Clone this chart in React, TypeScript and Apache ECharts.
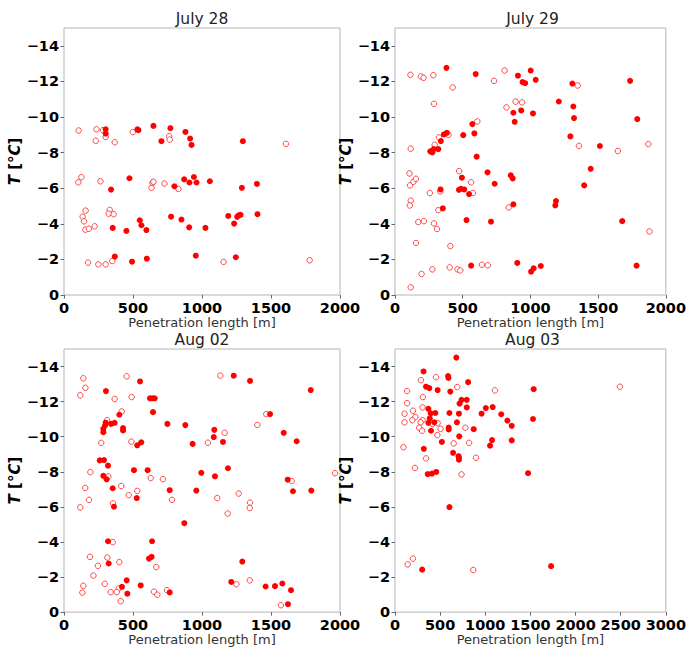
import React, { useEffect, useRef } from 'react';
import * as echarts from 'echarts';

const panelTitles = ['July 28', 'July 29', 'Aug 02', 'Aug 03'];
const xMaxes = [2000, 2000, 2000, 3000];
const yTickValues = [0, -2, -4, -6, -8, -10, -12, -14];

const jul28Filled = [
  [302, -9.31], [302, -9.07], [532, -9.31], [539, -9.26], [648, -9.5], [706, -8.64], [771, -9.37], [880, -9.16], [914, -8.79], [924, -8.43], [1296, -8.64],
  [341, -5.92], [474, -6.56], [800, -6.11], [871, -6.5], [909, -6.32], [941, -6.63], [960, -6.32], [1057, -6.39], [1289, -6.02], [1398, -6.24],
  [353, -3.77], [452, -3.6], [549, -4.2], [561, -3.92], [597, -3.65], [776, -4.4], [851, -4.24], [907, -3.8], [1025, -3.77], [1190, -4.44], [1233, -4.01], [1255, -4.39], [1265, -4.48], [1279, -4.5], [1402, -4.54],
  [368, -2.16], [493, -1.87], [600, -2.04], [955, -2.21], [1245, -2.12],
];
const jul28Hollow = [
  [106, -9.24], [235, -9.31], [283, -9.26], [302, -8.88], [498, -9.15], [762, -8.92], [766, -8.73], [230, -8.66], [368, -8.58], [1608, -8.49],
  [104, -6.33], [126, -6.62], [264, -6.39], [634, -6.02], [641, -6.3], [648, -6.36], [728, -6.26], [829, -5.96],
  [157, -4.74], [135, -4.4], [145, -4.14], [155, -3.67], [180, -3.72], [222, -3.86], [331, -4.78], [324, -4.57], [360, -4.54],
  [174, -1.82], [249, -1.72], [302, -1.72], [350, -1.91], [1156, -1.86], [1780, -1.95],
];
const jul29Filled = [
  [380, -12.76], [596, -12.41], [908, -12.32], [1002, -12.61], [942, -11.96], [961, -11.9], [1039, -12.09], [1310, -11.88], [1736, -12.03],
  [932, -10.37], [874, -10.24], [884, -9.73], [1019, -10.2], [1210, -10.87], [1317, -10.59], [1322, -9.94], [1789, -9.88],
  [571, -9.6], [586, -9.08], [504, -8.98], [361, -9.02], [383, -9.11], [339, -8.65], [261, -8.07], [276, -8.01], [286, -8.2], [320, -8.2], [603, -7.77], [1295, -8.91], [1513, -8.37],
  [1445, -7.09], [683, -6.89], [494, -6.59], [855, -6.72], [869, -6.55], [336, -5.93], [472, -5.91], [487, -5.97], [511, -5.93], [547, -5.67], [736, -6.25], [1397, -6.16],
  [874, -5.09], [1189, -5.28], [1184, -5.03], [353, -4.87], [528, -4.21], [709, -4.12], [1678, -4.15],
  [562, -1.65], [903, -1.8], [1005, -1.31], [1024, -1.5], [1077, -1.63], [1784, -1.65],
];
const jul29Hollow = [
  [114, -12.37], [191, -12.28], [211, -12.2], [283, -12.35], [426, -11.66], [731, -12.03], [809, -12.61], [1349, -11.77],
  [288, -10.74], [823, -10.54], [891, -10.86], [939, -10.82], [608, -9.75], [395, -9.0], [324, -8.85], [293, -8.44], [116, -8.22], [1358, -8.38], [1646, -8.09], [1871, -8.48],
  [474, -6.96], [107, -6.83], [111, -6.16], [136, -6.36], [155, -6.53], [257, -5.73], [334, -5.82], [562, -6.33], [576, -5.73],
  [116, -5.3], [109, -5.03], [320, -4.77], [840, -4.92], [172, -4.1], [213, -4.15], [288, -4.02], [310, -3.71], [1879, -3.57],
  [155, -2.92], [409, -2.75], [642, -1.7], [685, -1.67], [404, -1.55], [462, -1.44], [482, -1.38], [276, -1.44], [196, -1.18], [116, -0.43],
];
const aug02Filled = [
  [304, -12.6], [551, -13.15], [623, -12.19], [640, -12.19], [657, -12.19], [645, -11.4], [401, -11.25], [302, -10.8], [297, -10.64], [285, -10.45], [285, -10.26], [341, -10.73], [367, -10.79], [428, -10.49], [428, -10.36], [749, -10.73], [879, -10.66], [932, -9.59], [560, -9.68], [531, -9.51],
  [259, -8.65], [290, -8.67], [319, -8.35], [285, -7.77], [507, -8.09], [606, -8.09], [995, -7.94],
  [1230, -13.48], [1348, -13.18], [1788, -12.66], [1493, -11.29], [1089, -10.39], [1085, -9.98], [1152, -9.7], [1592, -10.22], [1686, -9.74], [1094, -7.74], [1188, -8.2], [1621, -7.55],
  [309, -7.57], [353, -7.06], [766, -6.95], [959, -6.93], [527, -6.5], [362, -6.01], [872, -5.07], [1659, -6.89], [1792, -6.93],
  [319, -4.04], [638, -4.04], [635, -3.15], [616, -3.05], [324, -2.77], [454, -1.81], [556, -1.52], [420, -1.44], [459, -1.05], [766, -1.12],
  [1292, -2.88], [1212, -1.72], [1461, -1.46], [1529, -1.48], [1582, -1.63], [1645, -1.25], [1623, -0.45],
];
const aug02Hollow = [
  [140, -13.33], [155, -12.79], [118, -12.36], [454, -13.44], [367, -12.15], [490, -12.26], [418, -11.44], [312, -10.94], [270, -9.65], [488, -9.72], [191, -7.98], [321, -7.74], [628, -7.64], [717, -7.58],
  [1133, -13.48], [1466, -11.29], [1401, -10.67], [1164, -10.22], [1043, -9.66], [1650, -7.47], [1964, -7.92],
  [415, -7.19], [154, -7.08], [531, -6.91], [469, -6.67], [181, -6.4], [783, -6.4], [355, -6.2], [118, -5.97], [1266, -6.76], [1111, -6.5], [1348, -6.24], [1346, -5.94], [1186, -5.62],
  [353, -3.99], [188, -3.15], [314, -3.11], [401, -2.85], [669, -2.57], [246, -2.64], [213, -2.08], [295, -1.61], [140, -1.5], [396, -1.35], [133, -1.11], [338, -1.14], [382, -1.14], [652, -1.16], [676, -0.99], [746, -1.25], [411, -0.62],
  [1249, -1.59], [1346, -1.81], [1572, -0.39],
];
const aug03Filled = [
  [679, -14.51], [316, -13.72], [588, -13.46], [592, -13.35], [810, -13.11], [613, -12.57], [344, -12.85], [381, -12.77], [472, -12.66], [1536, -12.71],
  [737, -12.1], [715, -11.89], [795, -12.1], [795, -11.67], [370, -11.59], [1006, -11.63], [1082, -11.69], [959, -11.31], [1177, -11.28], [1245, -10.92], [1293, -10.62], [1529, -11.01],
  [447, -11.35], [396, -11.33], [603, -11.35], [708, -11.31], [385, -11.05], [370, -10.79], [436, -10.82], [686, -10.82], [595, -10.52], [595, -10.41], [872, -10.43], [399, -10.34], [712, -10.02],
  [1075, -9.81], [1293, -9.79], [519, -9.7], [1053, -9.49], [319, -9.31], [643, -9.08], [704, -8.89], [708, -8.78], [708, -8.69],
  [363, -7.87], [410, -7.9], [457, -7.99], [1474, -7.92], [603, -5.99], [301, -2.42], [1729, -2.62],
];
const aug03Hollow = [
  [287, -13.22], [454, -13.39], [690, -12.83], [134, -12.6], [1107, -12.64], [308, -12.26], [134, -11.91], [305, -11.67], [199, -11.48], [105, -11.31], [225, -11.12], [305, -10.94], [192, -10.94], [283, -10.82], [105, -10.82], [414, -10.73], [472, -10.77], [268, -10.51], [301, -10.34], [505, -10.45], [780, -10.51], [469, -10.09], [650, -9.62], [821, -9.65], [94, -9.4], [344, -8.76], [897, -8.8], [221, -8.22], [737, -7.85],
  [141, -2.72], [199, -3.05], [868, -2.4], [2491, -12.85],
];

const filledSets = [jul28Filled, jul29Filled, aug02Filled, aug03Filled];
const hollowSets = [jul28Hollow, jul29Hollow, aug02Hollow, aug03Hollow];

const FONT = 'DejaVu Sans';
const gridBoxes = [
  { left: 64, top: 28, width: 276, height: 267 },
  { left: 395, top: 28, width: 275, height: 267 },
  { left: 64, top: 349, width: 276, height: 267 },
  { left: 395, top: 349, width: 275, height: 267 },
];

export default function App() {
  const ref = useRef<HTMLDivElement>(null);
  useEffect(() => {
    document.body.style.margin = '0';
    if (!ref.current) return;
    const chart = echarts.init(ref.current, null, { renderer: 'svg' });
    const grid = gridBoxes.map((g) => ({
      ...g,
      show: true,
      borderColor: '#b5b5b5',
      borderWidth: 1,
      backgroundColor: 'transparent',
      containLabel: false,
    }));
    const title = gridBoxes.map((g, i) => ({
      text: panelTitles[i],
      left: g.left + g.width / 2,
      top: g.top - 17,
      textAlign: 'center',
      padding: 0,
      textStyle: { fontFamily: FONT, fontSize: 15.5, fontWeight: 'normal', color: '#222' },
    }));
    const xAxis = gridBoxes.map((_, i) => ({
      type: 'value',
      gridIndex: i,
      min: 0,
      max: xMaxes[i],
      interval: 500,
      name: 'Penetration length [m]',
      nameLocation: 'middle',
      nameGap: 20,
      nameTextStyle: { fontFamily: FONT, fontSize: 13, color: '#333' },
      axisLine: { show: false },
      axisTick: { show: true, inside: false, length: 3.5, lineStyle: { color: '#666' } },
      axisLabel: {
        fontFamily: FONT, fontSize: 14.5, fontWeight: 'bold', color: '#000', margin: 5,
        formatter: (v: number) => String(v),
      },
      splitLine: { show: false },
    }));
    const yAxis = gridBoxes.map((_, i) => ({
      type: 'value',
      gridIndex: i,
      min: -15,
      max: 0,
      inverse: true,
      name: '{it|T} [°{it|C}]',
      nameLocation: 'middle',
      nameGap: 33,
      nameRotate: 90,
      nameTextStyle: {
        fontFamily: FONT, fontSize: 15, fontWeight: 'bold', color: '#000',
        rich: { it: { fontFamily: FONT, fontSize: 15, fontWeight: 'bold', fontStyle: 'italic', color: '#000' } },
      },
      axisLine: { show: false },
      axisTick: { show: true, inside: false, length: 3.5, lineStyle: { color: '#666' }, customValues: yTickValues },
      axisLabel: {
        fontFamily: FONT, fontSize: 14.5, fontWeight: 'bold', color: '#000', margin: 5,
        customValues: yTickValues,
        formatter: (v: number) => (v === 0 ? '0' : (v < 0 ? '\u2212' : '') + Math.abs(v)),
      },
      splitLine: { show: false },
    }));
    const series: any[] = [];
    gridBoxes.forEach((_, i) => {
      series.push({
        type: 'scatter',
        xAxisIndex: i,
        yAxisIndex: i,
        data: hollowSets[i],
        symbol: 'circle',
        symbolSize: 5.5,
        itemStyle: { color: '#ffffff', borderColor: 'rgba(255,0,0,0.7)', borderWidth: 1, opacity: 1 },
        z: 2,
      });
      series.push({
        type: 'scatter',
        xAxisIndex: i,
        yAxisIndex: i,
        data: filledSets[i],
        symbol: 'circle',
        symbolSize: 6,
        itemStyle: { color: '#ff0000', opacity: 1 },
        z: 3,
      });
    });
    chart.setOption({
      animation: false,
      backgroundColor: '#ffffff',
      title,
      grid,
      xAxis,
      yAxis,
      series,
    });
    return () => chart.dispose();
  }, []);
  return <div ref={ref} style={{ width: 689, height: 647 }} />;
}
